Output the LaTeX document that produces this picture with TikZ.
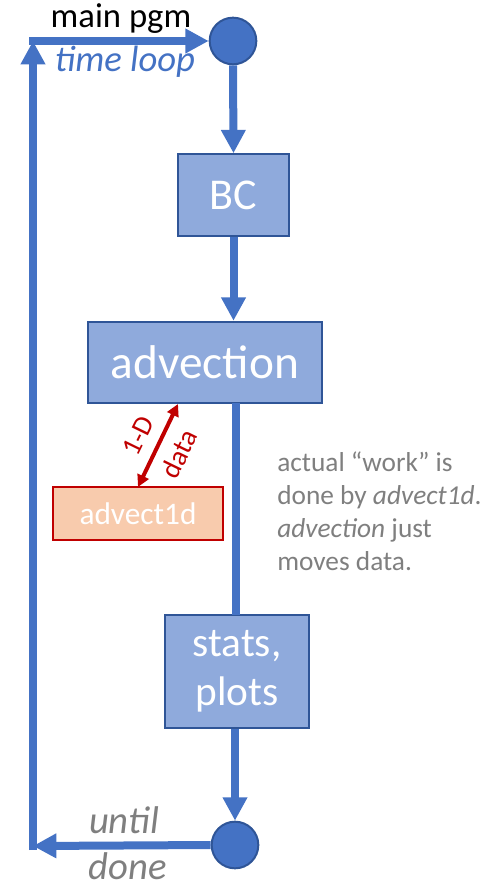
\documentclass[tikz,border=0pt]{standalone}
\usepackage{fontspec}
\setmainfont{Carlito}
\usetikzlibrary{arrows.meta}
\definecolor{lineblue}{HTML}{4472C4}
\definecolor{boxfill}{HTML}{8FAADC}
\definecolor{boxedge}{HTML}{2F5597}
\definecolor{darkred}{HTML}{C00000}
\definecolor{peach}{HTML}{F8CBAD}
\definecolor{txtgray}{HTML}{7F7F7F}
\tikzset{
  flow/.style={draw=lineblue, line width=6pt, -{Triangle[length=17.5pt,width=17.5pt]}},
  flowplain/.style={draw=lineblue, line width=6pt},
  blockbox/.style={draw=boxedge, line width=1.6pt, fill=boxfill, text=white, inner sep=0pt, minimum width=#1},
  junction/.style={circle, draw=boxedge, line width=1.5pt, fill=lineblue, minimum size=35pt, inner sep=0pt},
  redbox/.style={draw=darkred, line width=1.6pt, fill=peach, text=white, inner sep=0pt},
  redarrow/.style={draw=darkred, line width=3pt, {Triangle[length=9pt,width=9pt]}-{Triangle[length=9pt,width=9pt]}},
}
\begin{document}
\begin{tikzpicture}[x=0.75pt,y=-0.75pt]
\useasboundingbox (0,0) rectangle (497,887);
% nodes
\node[junction] (top) at (233,41) {};
\node[junction] (bot) at (235,845) {};
\node[blockbox=83pt, minimum height=61pt, font=\fontsize{33}{38}\selectfont] (bc) at (233.5,195) {BC};
\node[blockbox=175pt, minimum height=61pt, font=\fontsize{35.5}{40}\selectfont] (adv) at (205,362.5) {advection};
\node[blockbox=108pt, minimum height=85pt, align=center, font=\fontsize{31}{37}\selectfont] (stats) at (237,671.5) {stats,\\plots};
\node[redbox, minimum width=127pt, minimum height=40pt, font=\fontsize{23.5}{27}\selectfont] (a1d) at (138,513.5) {advect1d};
% coordinates for loop
\coordinate (bl) at (33,846);
\coordinate (tl) at (33,41);
\coordinate (advout) at (236,403);
\coordinate (statsin) at (236,615);
\coordinate (redtop) at (178,404);
\coordinate (redbot) at (138,487);
% connectors
\draw[flow] (top.south) -- (bc.north);
\draw[flow] (bc.south) -- (adv.north -| bc.south);
\draw[flowplain] (advout) -- (statsin);
\draw[flow] (stats.south -| bot.north) -- (bot.north);
\draw[flow] (bot.west) -- (bl);
\draw[flow, shorten <=-3pt] (bl) -- (tl);
\draw[flow, shorten <=-3pt] (tl) -- (top.west);
\draw[redarrow] (redbot) -- (redtop);
% labels
\node[anchor=base, font=\fontsize{26}{30}\selectfont] (mainpgm) at (121,28) {main pgm};
\node[anchor=base, text=lineblue, font=\fontsize{27.5}{32}\selectfont\itshape] (tloop) at (125,72) {time loop};
\node[anchor=base, text=txtgray, font=\fontsize{29}{34}\selectfont\itshape] (until) at (124,833) {until};
\node[anchor=base, text=txtgray, inner sep=1pt, font=\fontsize{29}{34}\selectfont\itshape] (done) at (128,879) {done};
\node[text=darkred, rotate=64, inner sep=0pt, font=\fontsize{21}{24}\selectfont] (oned) at (138.5,436) {1-D};
\node[text=darkred, rotate=64, inner sep=0pt, font=\fontsize{21}{24}\selectfont] (data) at (179,454) {data};
\node[anchor=north west, align=left, text=txtgray, inner sep=0pt, font=\fontsize{20.5}{24.75}\selectfont] (note) at (277,452) {actual “work” is\\done by \textit{advect1d}.\\\textit{advection} just\\moves data.};
\end{tikzpicture}
\end{document}
